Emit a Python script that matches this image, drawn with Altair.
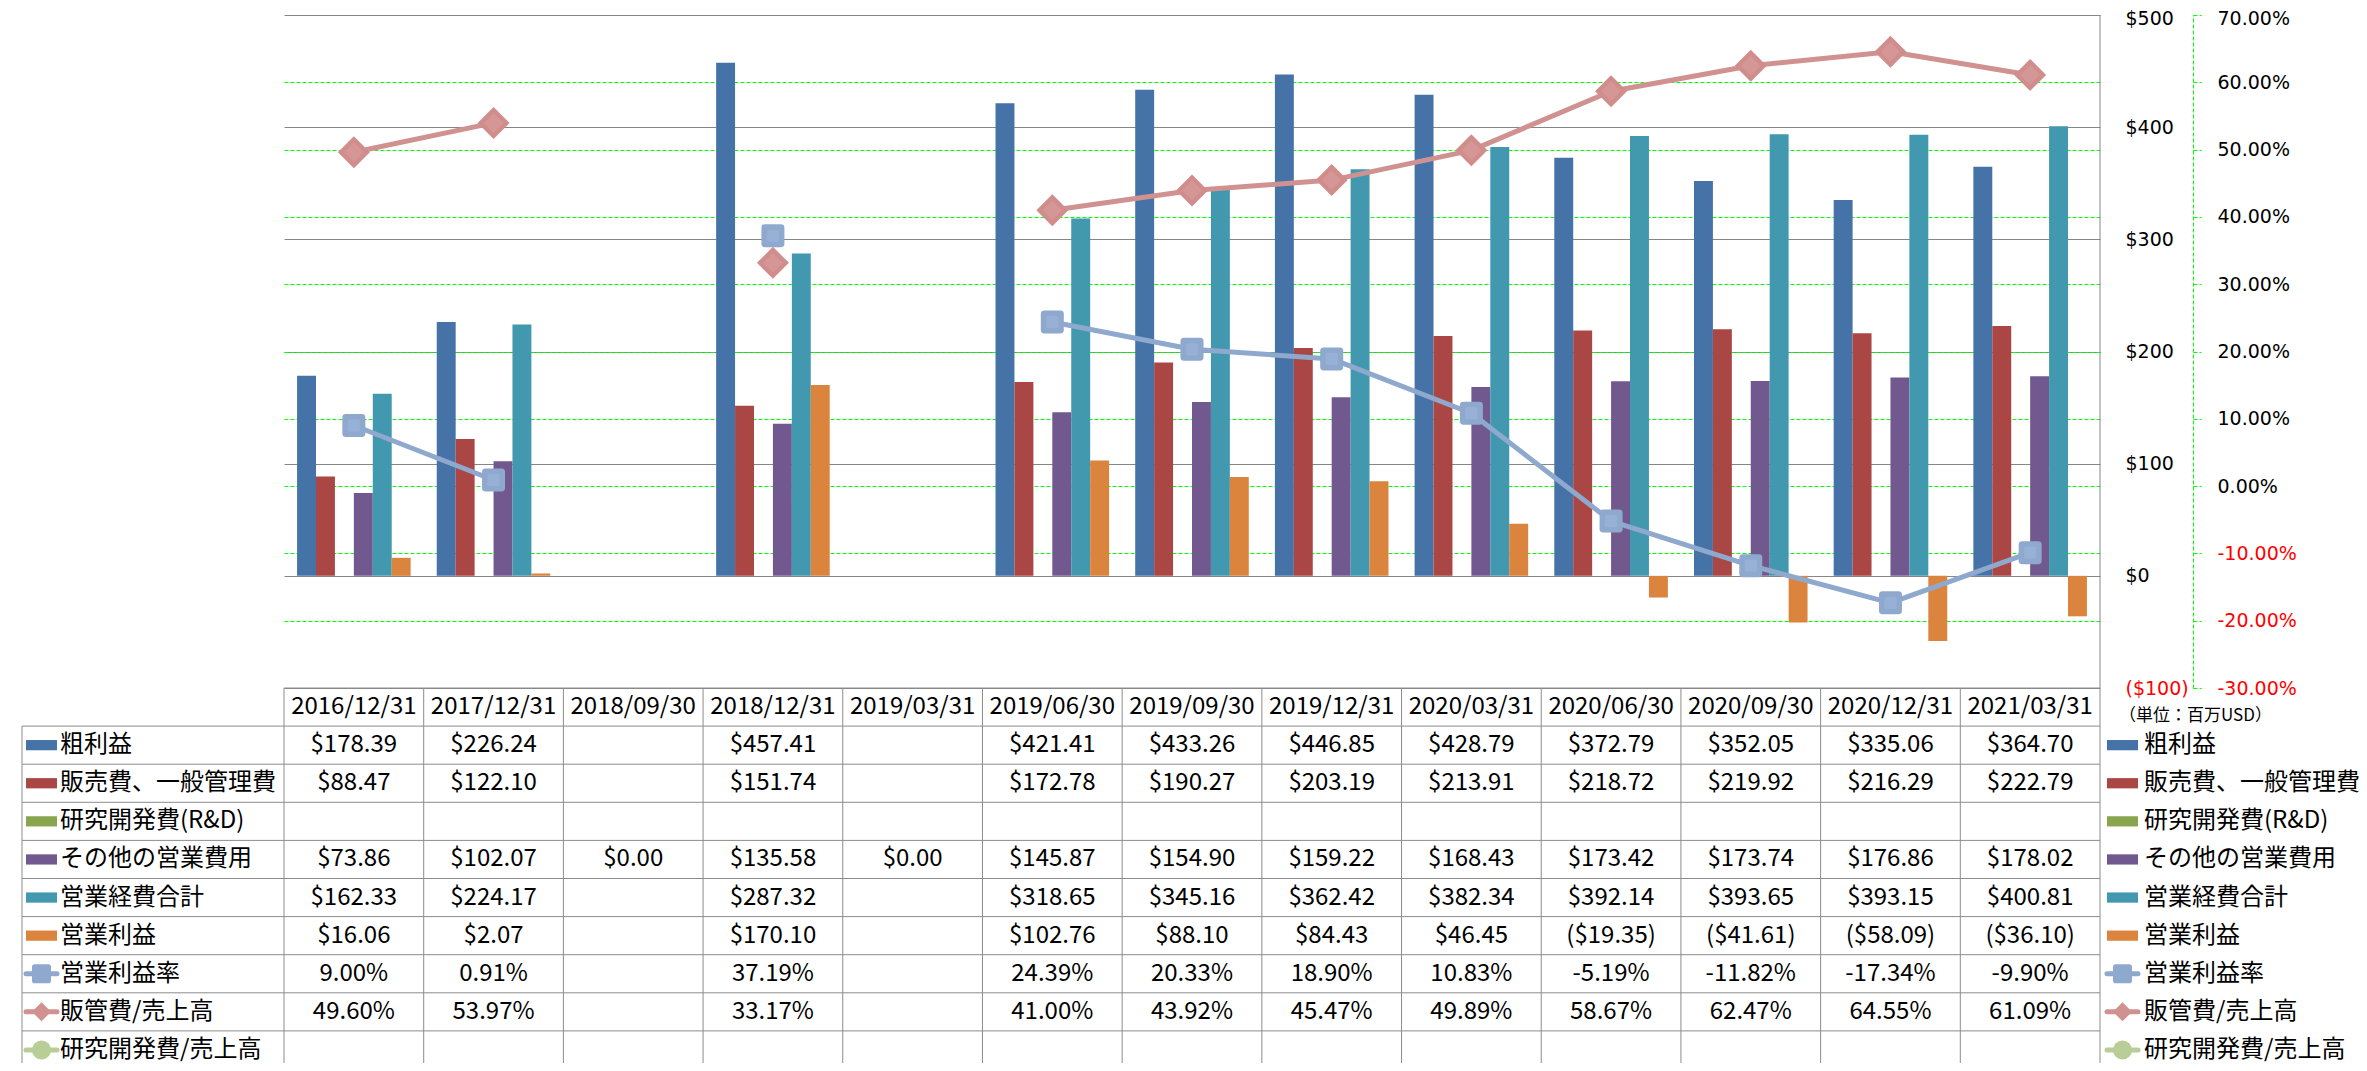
import altair as alt
import pandas as pd

# ---------------- data ----------------
dates = ["2016/12/31", "2017/12/31", "2018/09/30", "2018/12/31", "2019/03/31",
         "2019/06/30", "2019/09/30", "2019/12/31", "2020/03/31", "2020/06/30",
         "2020/09/30", "2020/12/31", "2021/03/31"]
gross_profit = [178.39, 226.24, None, 457.41, None, 421.41, 433.26, 446.85, 428.79, 372.79, 352.05, 335.06, 364.70]
sga_expense = [88.47, 122.10, None, 151.74, None, 172.78, 190.27, 203.19, 213.91, 218.72, 219.92, 216.29, 222.79]
rnd_expense = [None] * 13
other_opex = [73.86, 102.07, 0.00, 135.58, 0.00, 145.87, 154.90, 159.22, 168.43, 173.42, 173.74, 176.86, 178.02]
total_opex = [162.33, 224.17, None, 287.32, None, 318.65, 345.16, 362.42, 382.34, 392.14, 393.65, 393.15, 400.81]
operating_income = [16.06, 2.07, None, 170.10, None, 102.76, 88.10, 84.43, 46.45, -19.35, -41.61, -58.09, -36.10]
operating_margin = [9.00, 0.91, None, 37.19, None, 24.39, 20.33, 18.90, 10.83, -5.19, -11.82, -17.34, -9.90]
sga_ratio = [49.60, 53.97, None, 33.17, None, 41.00, 43.92, 45.47, 49.89, 58.67, 62.47, 64.55, 61.09]
rnd_ratio = [None] * 13

bar_names = ["粗利益", "販売費、一般管理費", "研究開発費(R&D)", "その他の営業費用", "営業経費合計", "営業利益"]
line_names = ["営業利益率", "販管費/売上高", "研究開発費/売上高"]
usd_ticks = [-100, 0, 100, 200, 300, 400, 500]
pct_ticks = [-0.3, -0.2, -0.1, 0.0, 0.1, 0.2, 0.3, 0.4, 0.5, 0.6, 0.7]
unit_note = "（単位：百万USD）"

# ---------------- styles ----------------
bar_colors = ["#4572A7", "#AA4643", "#89A54E", "#71588F", "#4198AF", "#DB843D"]
line_colors = ["#8EA8CE", "#D09291", "#B9CD96"]
W, H = 1816, 673
ROW_RANGE = [673, 1054]
GRID_GREY = "#868686"
TABLE_GREY = "#8C8C8C"
GREEN = "#00FF00"
TABLE_FONT = "Noto Sans CJK JP"
AXIS_FONT = "DejaVu Sans"

SQ_PATH = "M-0.7,-1L0.7,-1Q1,-1,1,-0.7L1,0.7Q1,1,0.7,1L-0.7,1Q-1,1,-1,0.7L-1,-0.7Q-1,-1,-0.7,-1Z"
DIA_PATH = "M-1,0L0,-1L1,0L0,1Z"
SWATCH_PATH = "M-1,-0.33L1,-0.33L1,0.33L-1,0.33Z"

# ---------------- frames ----------------
bar_series_vals = [gross_profit, sga_expense, rnd_expense, other_opex, total_opex, operating_income]
bar_rows = []
for name, vals in zip(bar_names, bar_series_vals):
    for d, v in zip(dates, vals):
        if v is not None:
            bar_rows.append({"date": d, "series": name, "value": v})
bar_df = pd.DataFrame(bar_rows)

line_rows = []
for name, vals in zip(line_names, [operating_margin, sga_ratio, rnd_ratio]):
    seg = 0
    for d, v in zip(dates, vals):
        if v is None:
            seg += 1
            continue
        line_rows.append({"date": d, "series": name, "pct": v / 100.0, "seg": f"{name}-{seg}"})
line_df = pd.DataFrame(line_rows)


def usd(v):
    if v is None:
        return ""
    return f"${v:,.2f}" if v >= 0 else f"(${abs(v):,.2f})"


def pct(v):
    if v is None:
        return ""
    return f"{v:.2f}%"


table_series = [(gross_profit, usd), (sga_expense, usd), (rnd_expense, usd), (other_opex, usd),
                (total_opex, usd), (operating_income, usd), (operating_margin, pct),
                (sga_ratio, pct), (rnd_ratio, pct)]
cell_rows = [{"date": d, "r": 0.5, "text": d} for d in dates]
for i, (vals, fmt) in enumerate(table_series):
    for d, v in zip(dates, vals):
        if v is not None:
            cell_rows.append({"date": d, "r": 1.5 + i, "text": fmt(v)})
cell_df = pd.DataFrame(cell_rows)

legend_names = bar_names + line_names
legend_df = pd.DataFrame({"series": legend_names, "r": [1.5 + i for i in range(len(legend_names))]})
legend_bar_df = legend_df.iloc[:6]
legend_line_df = legend_df.iloc[6:]

vline_df = pd.DataFrame({"date": dates, "r0": 0, "r1": 10})
hline_df = pd.DataFrame({"r": list(range(1, 11))})
top_df = pd.DataFrame({"r": [0]})
edge_df = pd.DataFrame({"r0": [0], "r1": [10]})
note_df = pd.DataFrame({"text": [unit_note]})

# ---------------- scales / axes ----------------
xscale = alt.Scale(type="band", domain=dates, paddingInner=0, paddingOuter=0)
usd_scale = alt.Scale(domain=[-100, 500], nice=False, zero=False)
pct_scale = alt.Scale(domain=[-0.3, 0.7], nice=False, zero=False)
row_scale = alt.Scale(domain=[0, 10], range=ROW_RANGE, nice=False, zero=False)
neg_red = {"condition": {"test": "datum.value < 0", "value": "#FF0000"}, "value": "#000000"}

axis_usd = alt.Axis(orient="right", values=usd_ticks, title=None, domain=False, ticks=False, tickSize=0,
                    labelPadding=25, labelAlign="left", labelFont=AXIS_FONT, labelFontSize=19,
                    labelColor=neg_red, labelFlush=False, labelOverlap=False,
                    labelOffset={"condition": {"test": "datum.value > 450", "value": 3}, "value": 0},
                    labelExpr="datum.value < 0 ? '($' + abs(datum.value) + ')' : '$' + datum.value",
                    grid=True, gridColor=GRID_GREY, gridWidth=1)
axis_pct = alt.Axis(orient="right", offset=93, values=pct_ticks, title=None,
                    domain=True, domainColor=GREEN, domainDash=[4, 2], domainWidth=1,
                    ticks=True, tickSize=8, tickColor=GREEN, tickDash=[4, 2], tickWidth=1,
                    labelPadding=16, labelAlign="left", labelFont=AXIS_FONT, labelFontSize=19,
                    labelColor=neg_red, labelFlush=False, labelOverlap=False,
                    labelOffset={"condition": {"test": "datum.value > 0.65", "value": 3}, "value": 0},
                    labelExpr="replace(format(datum.value, '.2%'), '\u2212', '-')",
                    grid=True, gridColor=GREEN, gridDash=[4, 2], gridWidth=1,
                    gridOpacity={"condition": {"test": "datum.value > 0.65 || datum.value < -0.25", "value": 0}, "value": 1})

X = alt.X("date:N", scale=xscale, axis=None, bandPosition=0.5)

# ---------------- plot layers ----------------
bars = alt.Chart(bar_df).mark_bar().encode(
    x=alt.X("date:N", scale=xscale, axis=None),
    xOffset=alt.XOffset("series:N", scale=alt.Scale(domain=bar_names, paddingInner=0, paddingOuter=0.69)),
    y=alt.Y("value:Q", scale=usd_scale, axis=axis_usd),
    color=alt.Color("series:N", scale=alt.Scale(domain=bar_names, range=bar_colors), legend=None),
)

lines = alt.Chart(line_df).mark_line(strokeWidth=5, strokeJoin="round", strokeCap="round").encode(
    x=X,
    y=alt.Y("pct:Q", scale=pct_scale, axis=axis_pct),
    color=alt.Color("series:N", scale=alt.Scale(domain=line_names, range=line_colors), legend=None),
    detail="seg:N",
)


def marker_layer(name, path, size, color):
    return alt.Chart(line_df[line_df["series"] == name]).mark_point(
        shape=path, size=size, filled=True, opacity=1, color=color, strokeWidth=0
    ).encode(x=X, y=alt.Y("pct:Q", scale=pct_scale, axis=None))


sq_outer = marker_layer(line_names[0], SQ_PATH, 529, "#8EA8CE")
sq_inner = marker_layer(line_names[0], SQ_PATH, 150, "#97B0D5")
dia_outer = marker_layer(line_names[1], DIA_PATH, 1024, "#D08D8C")
dia_inner = marker_layer(line_names[1], DIA_PATH, 380, "#D49796")

right_border = alt.Chart(edge_df).mark_rule(color=GRID_GREY, strokeWidth=1).encode(
    x=alt.value("width"), y=alt.value(0), y2=alt.value("height"))

# ---------------- table layers ----------------
vlines = alt.Chart(vline_df).mark_rule(color=TABLE_GREY, strokeWidth=1).encode(
    x=alt.X("date:N", scale=xscale, axis=None, bandPosition=0),
    y=alt.Y("r0:Q", scale=row_scale, axis=None), y2="r1:Q")
vline_right = alt.Chart(edge_df).mark_rule(color=TABLE_GREY, strokeWidth=1).encode(
    x=alt.value("width"), y=alt.Y("r0:Q", scale=row_scale, axis=None), y2="r1:Q")
vline_left = alt.Chart(pd.DataFrame({"r0": [1], "r1": [10]})).mark_rule(color=TABLE_GREY, strokeWidth=1).encode(
    x=alt.value(-262), y=alt.Y("r0:Q", scale=row_scale, axis=None), y2="r1:Q")
hlines = alt.Chart(hline_df).mark_rule(color=TABLE_GREY, strokeWidth=1).encode(
    x=alt.value(-262), x2=alt.value("width"), y=alt.Y("r:Q", scale=row_scale, axis=None))
hline_top = alt.Chart(top_df).mark_rule(color=TABLE_GREY, strokeWidth=1).encode(
    x=alt.value(0), x2=alt.value("width"), y=alt.Y("r:Q", scale=row_scale, axis=None))

cells = alt.Chart(cell_df).mark_text(font=TABLE_FONT, fontSize=24, align="center", baseline="middle",
                                     color="#000000").encode(
    x=X, y=alt.Y("r:Q", scale=row_scale, axis=None), text="text:N")


def legend_layers(sw_x, l0, l1, tx):
    sw = alt.Chart(legend_bar_df).mark_point(shape=SWATCH_PATH, size=961, filled=True, opacity=1,
                                              strokeWidth=0).encode(
        x=alt.value(sw_x), y=alt.Y("r:Q", scale=row_scale, axis=None),
        color=alt.Color("series:N", scale=alt.Scale(domain=bar_names, range=bar_colors), legend=None))
    ln = alt.Chart(legend_line_df).mark_rule(strokeWidth=5, strokeCap="round").encode(
        x=alt.value(l0), x2=alt.value(l1), y=alt.Y("r:Q", scale=row_scale, axis=None),
        color=alt.Color("series:N", scale=alt.Scale(domain=line_names, range=line_colors), legend=None))
    mk = alt.Chart(legend_line_df).mark_point(size=361, filled=True, opacity=1, strokeWidth=0).encode(
        x=alt.value(sw_x), y=alt.Y("r:Q", scale=row_scale, axis=None),
        color=alt.Color("series:N", scale=alt.Scale(domain=line_names, range=line_colors), legend=None),
        shape=alt.Shape("series:N", scale=alt.Scale(domain=line_names, range=[SQ_PATH, DIA_PATH, "circle"]),
                        legend=None))
    tx_l = alt.Chart(legend_df).mark_text(font=TABLE_FONT, fontSize=24, align="left", baseline="middle",
                                          color="#000000").encode(
        x=alt.value(tx), y=alt.Y("r:Q", scale=row_scale, axis=None), text="series:N")
    return [sw, ln, mk, tx_l]


left_legend = legend_layers(-242.5, -258, -227, -224)
right_legend = legend_layers(1838.5, 1823, 1854, 1860)

note = alt.Chart(note_df).mark_text(font=TABLE_FONT, fontSize=17, align="left", baseline="middle",
                                    color="#000000").encode(
    x=alt.value(1835), y=alt.value(701), text="text:N")

chart = alt.layer(
    bars, lines, sq_outer, sq_inner, dia_outer, dia_inner, right_border,
    vlines, vline_right, vline_left, hlines, hline_top, cells,
    *left_legend, *right_legend, note,
).resolve_scale(
    y="independent", color="independent", shape="independent"
).properties(
    width=W, height=H,
    padding={"left": 276, "top": 7, "right": 259, "bottom": 375},
    autosize=alt.AutoSizeParams(type="none"),
).configure_view(stroke=None)

chart.save("out.html", embed_options={"renderer": "svg", "actions": False})
